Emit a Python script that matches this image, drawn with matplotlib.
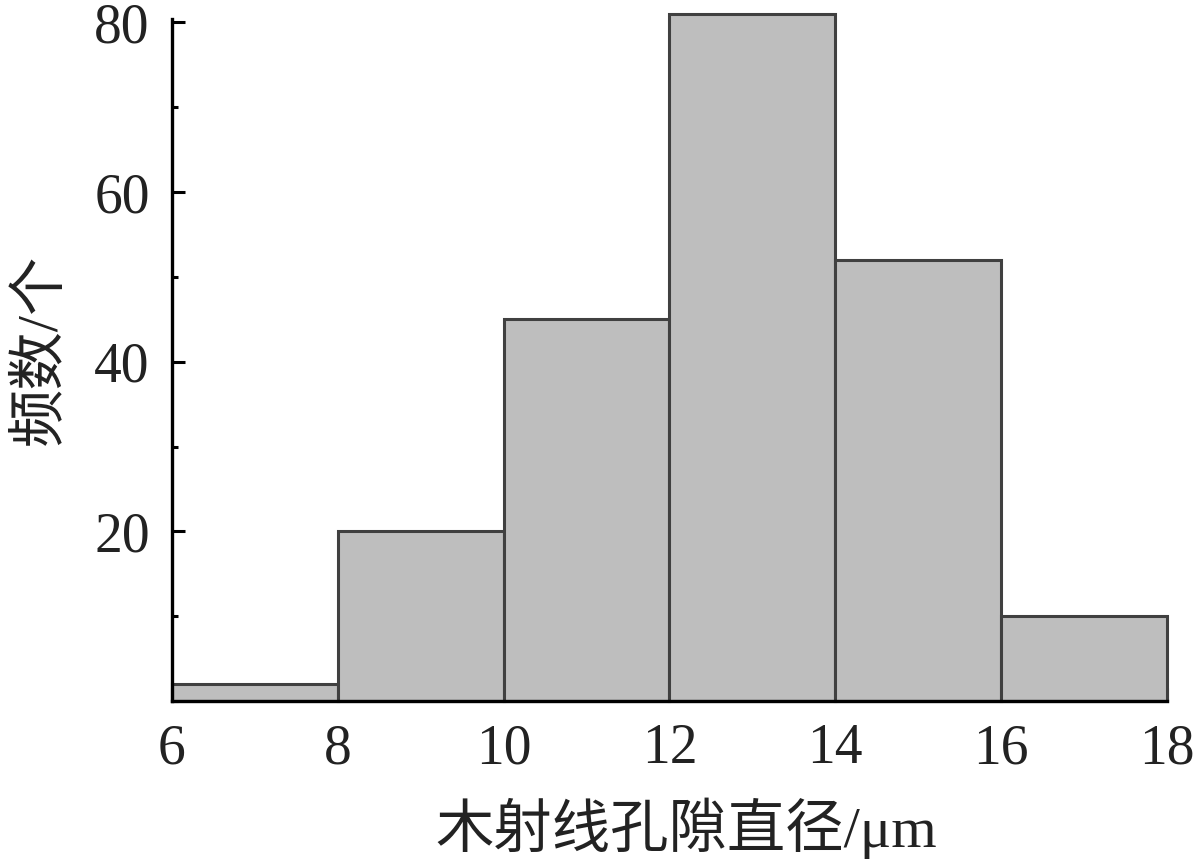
import numpy as np
import matplotlib
matplotlib.use("Agg")
import matplotlib.pyplot as plt
from matplotlib.ticker import MultipleLocator

# histogram data
bin_edges = [6, 8, 10, 12, 14, 16, 18]
counts = [2, 20, 45, 81, 52, 10]
y_ticks = [20, 40, 60, 80]
x_ticks = [6, 8, 10, 12, 14, 16, 18]

plt.rcParams['font.family'] = ['Liberation Serif', 'Noto Sans CJK SC']
plt.rcParams['xtick.direction'] = 'in'
plt.rcParams['ytick.direction'] = 'in'

fig = plt.figure(figsize=(11.95, 8.63), dpi=100)
ax = fig.add_axes([0.1439, 0.1877, 0.8327, 0.7903])

lefts = bin_edges[:-1]
widths = np.diff(bin_edges)
ax.bar(lefts, counts, width=widths, align='edge', color='#bebebe',
       edgecolor='#404040', linewidth=2.2, clip_on=False, zorder=2)

ax.set_xlim(6, 18)
ax.set_ylim(0, 80.4)
ax.set_xticks(x_ticks)
ax.set_yticks(y_ticks)
ax.xaxis.set_minor_locator(MultipleLocator(1))
ax.yaxis.set_minor_locator(MultipleLocator(10))

for s in ['top', 'right']:
    ax.spines[s].set_visible(False)
for s in ['left', 'bottom']:
    ax.spines[s].set_linewidth(2.4)
    ax.spines[s].set_zorder(3)

ax.tick_params(axis='both', which='major', direction='in', length=9.5,
               width=2.2, labelsize=40, labelcolor='#222222', pad=16)
ax.tick_params(axis='y', which='minor', direction='in', length=4, width=2.2)
ax.tick_params(axis='x', which='minor', direction='in', length=3, width=2.2)

ax.set_xlabel('木射线孔隙直径/μm', fontsize=42, color='#222222')
ax.set_ylabel('频数/个', fontsize=42, color='#222222')
ax.xaxis.set_label_coords(0.517, -0.142)
ax.yaxis.set_label_coords(-0.105, 0.515)

fig.savefig('out.png', dpi=100)
